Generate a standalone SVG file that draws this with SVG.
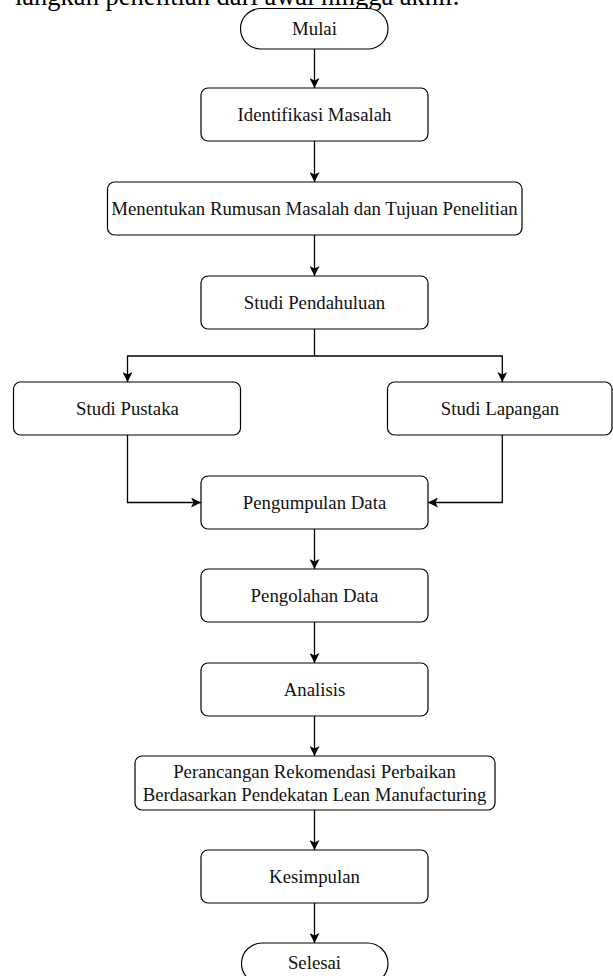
<svg xmlns="http://www.w3.org/2000/svg" width="613" height="976" viewBox="0 0 613 976">
  <defs>
    <marker id="arr" viewBox="0 0 10 10" refX="10" refY="5" markerWidth="10" markerHeight="10" markerUnits="userSpaceOnUse" orient="auto">
      <path d="M0,0 L10,5 L0,10 L2.5,5 Z" fill="#000"/>
    </marker>
  </defs>
  <style>
    .box { fill: #fff; stroke: #000; stroke-width: 1.2; }
    .lbl { font-family: "Liberation Serif", "Times New Roman", serif; font-size: 18.8px; fill: #111; text-anchor: middle; dominant-baseline: central; }
    .edge { fill: none; stroke: #000; stroke-width: 1.3; marker-end: url(#arr); }
    .top { font-family: "Liberation Serif", "Times New Roman", serif; font-size: 26.5px; fill: #000; }
  </style>
  <rect width="613" height="976" fill="#fff"/>
  <text class="top" x="15" y="5">langkah penelitian dari awal hingga akhir.</text>

  <g id="connectors">
    <path class="edge" d="M314.5,49 V88"/>
    <path class="edge" d="M314.5,141 V182"/>
    <path class="edge" d="M314.5,235 V276"/>
    <path class="edge" d="M314.5,329 V356 H127.5 V382"/>
    <path class="edge" d="M314.5,356 H502.3 V382"/>
    <path class="edge" d="M127.5,435 V502.5 H201"/>
    <path class="edge" d="M502.3,435 V502.5 H428"/>
    <path class="edge" d="M314.5,529 V569"/>
    <path class="edge" d="M314.5,622 V663"/>
    <path class="edge" d="M314.5,716 V756"/>
    <path class="edge" d="M314.5,810 V850"/>
    <path class="edge" d="M314.5,903 V943"/>
  </g>

  <g id="mulai">
    <rect class="box" x="240.5" y="8.5" width="147.5" height="40.5" rx="20.25"/>
    <text class="lbl" x="314.5" y="28.5">Mulai</text>
  </g>
  <g id="identifikasi">
    <rect class="box" x="201" y="88" width="227" height="53" rx="7"/>
    <text class="lbl" x="314.5" y="114">Identifikasi Masalah</text>
  </g>
  <g id="menentukan">
    <rect class="box" x="107.5" y="182" width="414.5" height="53" rx="7"/>
    <text class="lbl" x="314.5" y="208">Menentukan Rumusan Masalah dan Tujuan Penelitian</text>
  </g>
  <g id="studi-pendahuluan">
    <rect class="box" x="201" y="276" width="227" height="53" rx="7"/>
    <text class="lbl" x="314.5" y="302">Studi Pendahuluan</text>
  </g>
  <g id="studi-pustaka">
    <rect class="box" x="13.5" y="382" width="227" height="53" rx="7"/>
    <text class="lbl" x="127.5" y="408">Studi Pustaka</text>
  </g>
  <g id="studi-lapangan">
    <rect class="box" x="387.5" y="382" width="224.5" height="53" rx="7"/>
    <text class="lbl" x="500" y="408">Studi Lapangan</text>
  </g>
  <g id="pengumpulan">
    <rect class="box" x="201" y="476" width="227" height="53" rx="7"/>
    <text class="lbl" x="314.5" y="502">Pengumpulan Data</text>
  </g>
  <g id="pengolahan">
    <rect class="box" x="201" y="569" width="227" height="53" rx="7"/>
    <text class="lbl" x="314.5" y="595">Pengolahan Data</text>
  </g>
  <g id="analisis">
    <rect class="box" x="201" y="663" width="227" height="53" rx="7"/>
    <text class="lbl" x="314.5" y="689">Analisis</text>
  </g>
  <g id="perancangan">
    <rect class="box" x="135" y="756" width="360" height="54" rx="7"/>
    <text class="lbl" x="314.5" y="771">Perancangan Rekomendasi Perbaikan</text>
    <text class="lbl" x="314.5" y="794">Berdasarkan Pendekatan Lean Manufacturing</text>
  </g>
  <g id="kesimpulan">
    <rect class="box" x="201" y="850" width="227" height="53" rx="7"/>
    <text class="lbl" x="314.5" y="876">Kesimpulan</text>
  </g>
  <g id="selesai">
    <rect class="box" x="241.5" y="943" width="146.5" height="41" rx="20.5"/>
    <text class="lbl" x="314.5" y="962">Selesai</text>
  </g>
</svg>
